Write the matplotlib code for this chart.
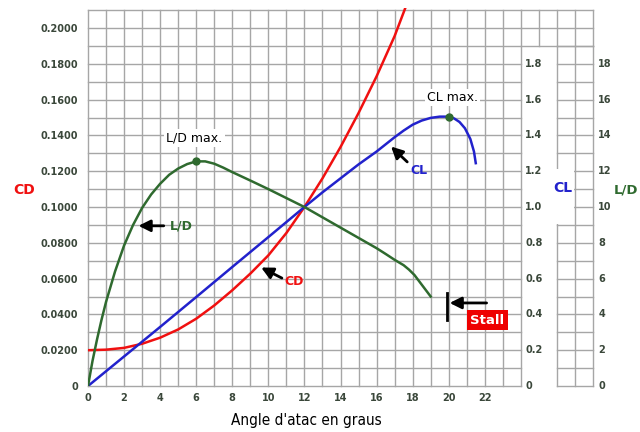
import matplotlib
matplotlib.use("Agg")
import matplotlib.pyplot as plt
from matplotlib.patches import Rectangle

# Data (CL and L/D stored in their own units)
alpha_cd = [0, 1, 2, 3, 4, 5, 6, 7, 8, 9, 10, 11, 12, 13, 14, 15, 16, 17, 18]
cd = [0.0200, 0.0203, 0.0213, 0.0236, 0.0270, 0.0316, 0.0376, 0.0450,
      0.0535, 0.0628, 0.0730, 0.0855, 0.1000, 0.1160, 0.1335, 0.1525,
      0.1730, 0.1955, 0.2220]

alpha_cl = [0, 2, 4, 6, 8, 10, 12, 13, 14, 15, 16, 16.5, 17, 17.5, 18,
            18.5, 19, 19.5, 20, 20.3, 20.6, 20.9, 21.2, 21.4, 21.5]
cl = [0.0, 0.165, 0.330, 0.497, 0.665, 0.832, 1.000, 1.082, 1.160, 1.238,
      1.310, 1.350, 1.390, 1.427, 1.460, 1.483, 1.498, 1.505, 1.505, 1.495,
      1.475, 1.440, 1.380, 1.310, 1.245]

alpha_ld = [0, 0.25, 0.5, 0.75, 1, 1.5, 2, 2.5, 3, 3.5, 4, 4.5, 5, 5.5, 6,
            6.5, 7, 7.5, 8, 9, 10, 12, 14, 16, 16.5, 17, 17.5, 17.8, 18.1,
            18.4, 18.7, 19]
ld = [0.0, 1.4, 2.6, 3.7, 4.7, 6.4, 7.85, 9.0, 9.95, 10.7, 11.3, 11.8,
      12.15, 12.4, 12.55, 12.55, 12.42, 12.2, 11.95, 11.48, 11.0, 10.0,
      8.85, 7.7, 7.38, 7.05, 6.75, 6.5, 6.2, 5.8, 5.4, 5.0]

ld_max = (6, 12.55)
cl_max = (20, 1.505)
stall_alpha = 19.9

x_ticks = list(range(0, 23, 2))
cd_ticks = [0, 0.02, 0.04, 0.06, 0.08, 0.10, 0.12, 0.14, 0.16, 0.18, 0.20]
cl_ticks = [0, 0.2, 0.4, 0.6, 0.8, 1.0, 1.2, 1.4, 1.6, 1.8]
ld_ticks = [0, 2, 4, 6, 8, 10, 12, 14, 16, 18]

RED = '#f01010'
BLUE = '#2222cc'
GREEN = '#2f6a2f'
TICK = '#3a473a'
GRID = '#a6a6a6'

fig = plt.figure(figsize=(6.4, 4.32), dpi=100)
ax = fig.add_axes([88 / 640, 46 / 432, 505 / 640, 378 / 432])
ytop = 0.2112
ax.set_xlim(0, 28)
ax.set_ylim(0, ytop)
for s in ax.spines.values():
    s.set_visible(False)

# ---- grid (main block, top strip, L/D column) ----
gkw = dict(color=GRID, lw=1.0, clip_on=False, zorder=1)
for i in range(25):
    ax.plot([i, i], [0, 0.21], **gkw)
for j in range(22):
    ax.plot([0, 24], [j * 0.01, j * 0.01], **gkw)
for i in (25, 26, 27, 28):
    ax.plot([i, i], [0.19, 0.21], **gkw)
for j in (19, 20, 21):
    ax.plot([24, 28], [j * 0.01, j * 0.01], **gkw)
for i in (26, 27, 28):
    ax.plot([i, i], [0, 0.19], **gkw)
for j in range(20):
    ax.plot([26, 28], [j * 0.01, j * 0.01], **gkw)
ax.add_patch(Rectangle((25.9, 0.0905), 1.05, 0.0305, facecolor='white',
                       edgecolor='none', zorder=2, clip_on=False))

# ---- curves ----
ax.plot(alpha_cd, cd, color=RED, lw=1.8, zorder=4)
ax.plot(alpha_cl, [v / 10 for v in cl], color=BLUE, lw=1.8, zorder=4)
ax.plot(alpha_ld, [v / 100 for v in ld], color=GREEN, lw=1.8, zorder=4)
ax.plot(ld_max[0], ld_max[1] / 100, 'o', color=GREEN, ms=5, zorder=5)
ax.plot(cl_max[0], cl_max[1] / 10, 'o', color=GREEN, ms=5, zorder=5)

# ---- ticks ----
ax.set_xticks(x_ticks)
ax.set_xticklabels([str(v) for v in x_ticks])
ax.set_yticks(cd_ticks)
ax.set_yticklabels(['0'] + ['%.4f' % v for v in cd_ticks[1:]])
ax.tick_params(length=0, labelsize=7, labelcolor=TICK)
ax.tick_params(axis='x', pad=5)
ax.tick_params(axis='y', pad=7)
for lab in ax.get_xticklabels() + ax.get_yticklabels():
    lab.set_fontweight('bold')

for v in cl_ticks:
    ax.text(24.25, v / 10, '0' if v == 0 else '%.1f' % v, fontsize=7,
            fontweight='bold', color=TICK, ha='left', va='center')
for v in ld_ticks:
    ax.text(28.3, v / 100, str(v), fontsize=7, fontweight='bold',
            color=TICK, ha='left', va='center', clip_on=False)

# ---- axis titles ----
fig.text(24 / 640, 1 - 190 / 432, 'CD', color=RED, fontsize=10,
         fontweight='bold', ha='center', va='center')
fig.text(563 / 640, 1 - 188 / 432, 'CL', color=BLUE, fontsize=10,
         fontweight='bold', ha='center', va='center')
fig.text(614 / 640, 1 - 190 / 432, 'L/D', color=GREEN, fontsize=9.5,
         fontweight='bold', ha='left', va='center')
fig.text(306 / 640, 1 - 420 / 432, "Angle d'atac en graus",
         family='DejaVu Sans', stretch='condensed', fontsize=11,
         ha='center', va='center')

# ---- annotations ----
wbox = dict(facecolor='white', edgecolor='none', pad=1.5)
ax.text(5.9, 0.1385, 'L/D max.', fontsize=9, ha='center', va='center',
        bbox=wbox, zorder=6)
ax.text(20.2, 0.161, 'CL max.', fontsize=9, ha='center', va='center',
        bbox=wbox, zorder=6)

akw = dict(arrowstyle='-|>,head_width=0.35,head_length=0.7', color='black',
           lw=2, shrinkA=0, shrinkB=0)
ax.annotate('', xy=(2.8, 0.0895), xytext=(4.2, 0.0895), arrowprops=akw,
            zorder=6)
ax.text(4.55, 0.0895, 'L/D', color=GREEN, fontsize=9, fontweight='bold',
        ha='left', va='center', zorder=6)
ax.annotate('', xy=(9.6, 0.0662), xytext=(10.75, 0.0603), arrowprops=akw,
            zorder=6)
ax.text(10.9, 0.0585, 'CD', color=RED, fontsize=9, fontweight='bold',
        ha='left', va='center', zorder=6)
ax.annotate('', xy=(16.8, 0.1338), xytext=(17.7, 0.1252), arrowprops=akw,
            zorder=6)
ax.text(17.85, 0.1203, 'CL', color=BLUE, fontsize=9, fontweight='bold',
        ha='left', va='center', zorder=6)

# stall marker
ax.plot([stall_alpha, stall_alpha], [0.037, 0.052], color='black', lw=2,
        zorder=6)
ax.annotate('', xy=(stall_alpha + 0.15, 0.0464), xytext=(22.1, 0.0464),
            arrowprops=akw, zorder=6)
ax.text(22.15, 0.0368, 'Stall', color='white', fontsize=9.5,
        fontweight='bold', ha='center', va='center', zorder=6,
        bbox=dict(facecolor='#ee0000', edgecolor='none', pad=2.5))

fig.savefig('out.png', dpi=100)
